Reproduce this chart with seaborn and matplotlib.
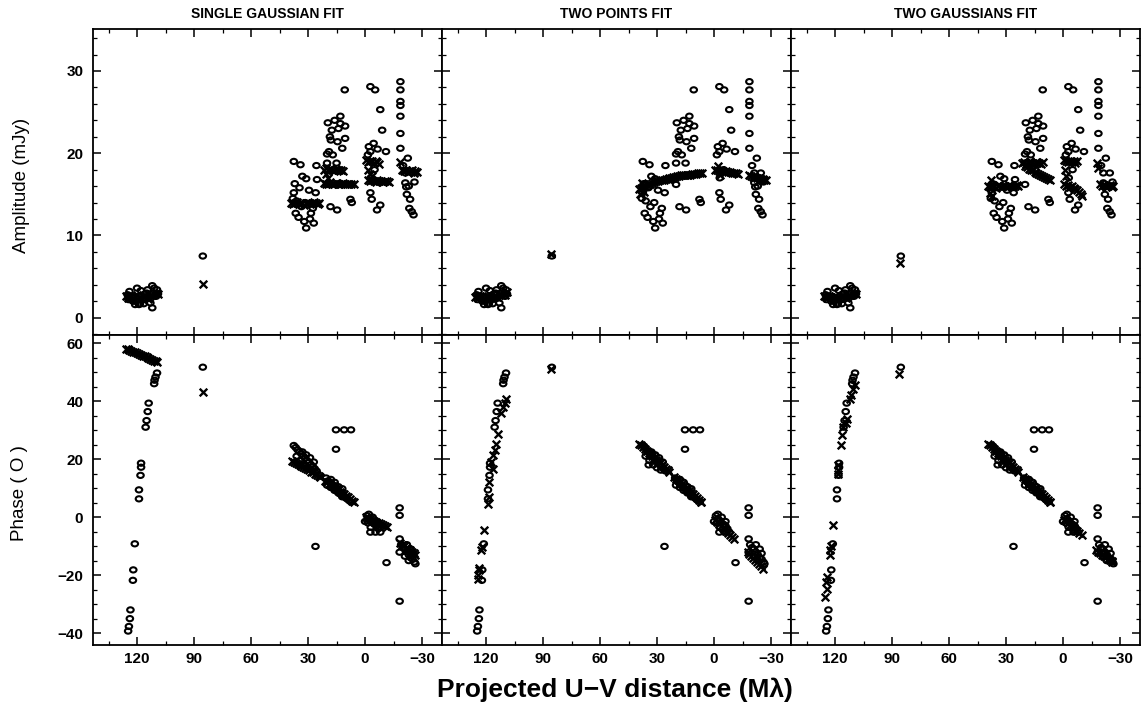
import matplotlib
matplotlib.use("Agg")
import matplotlib.pyplot as plt
import matplotlib.transforms as mtransforms
from matplotlib.path import Path
import pandas as pd
import seaborn as sns
from matplotlib.ticker import MultipleLocator

# ---------------- DATA ----------------
fit_titles = ["SINGLE GAUSSIAN FIT", "TWO POINTS FIT", "TWO GAUSSIANS FIT"]
x_ticks = [120, 90, 60, 30, 0, -30]
amp_ticks = [0, 10, 20, 30]
phase_ticks = [-40, -20, 0, 20, 40, 60]

# observed amplitudes (circles), identical in the three panels
amp_obs_uv = [
    125, 124, 123, 122, 121, 120, 119, 118.5, 118, 117, 116, 115, 114, 113, 112, 112, 111, 110, 109.5, 109,
    124.5, 120.5, 116.5, 114.5,
    85.4,
    37.5, 34, 37, 33, 31, 25.6, 25.3, 37.5, 34.5, 36.5, 32, 31, 29, 27, 28.5, 27.5, 33.5, 36, 31.5, 29.5, 26, 38, 35,
    19.6, 17.5, 13, 13, 10.5, 10.5, 14.5, 18, 19, 20, 17, 12, 20, 15, 20, 18.2, 14.7, 10.7, 7.7, 7, 16, 18.5, 14,
    -2.8, -5.3, -8, -9, -4.5, -2, -2.8, -6.6, -11, -2.8, -3.5, -6.3, -8, -3, -5, -1.5,
    -18.6, -18.6, -18.6, -18.6, -18.6, -18.6, -18.6, -22.5, -21.2, -21.7, -22, -23.7, -23.3, -24.6, -25.5,
    -21.2, -24.6, -20, -26, -23]
amp_obs = [
    2.8, 3.2, 2.6, 2.0, 1.6, 3.6, 1.6, 1.7, 3.3, 2.2, 2.9, 3.0, 2.4, 1.8, 3.9, 1.2, 3.6, 2.6, 3.4, 2.9,
    2.2, 2.0, 1.7, 3.4,
    7.5,
    19.0, 18.6, 16.3, 17.2, 16.9, 18.5, 16.8, 15.2, 15.8, 12.7, 11.7, 10.9, 12.0, 11.5, 12.7, 13.3, 13.5, 14.2, 14.0, 15.5, 15.2, 14.5, 12.2,
    23.7, 22.8, 24.5, 23.6, 23.3, 21.8, 21.4, 21.6, 20.2, 19.9, 19.8, 20.6, 18.8, 18.8, 16.2, 13.5, 13.1, 27.7, 14.4, 14.0, 24.0, 22.0, 23.0,
    28.1, 27.7, 25.3, 22.8, 21.2, 20.8, 20.2, 20.5, 20.2, 15.2, 14.4, 13.1, 13.7, 17.0, 18.0, 19.8,
    28.7, 27.7, 26.3, 25.8, 24.5, 22.4, 20.6, 19.4, 16.4, 15.9, 15.0, 14.4, 13.3, 12.9, 12.5,
    17.6, 17.6, 18.5, 16.5, 16.0]

# model amplitudes (crosses)
amp_fit_uv_single = [
    126, 125, 124, 123, 122, 121, 120, 119, 118, 117, 116, 115, 114, 113, 112, 111, 110, 109,
    85.4,
    39, 38, 37, 36, 35, 34, 33, 32, 31, 30, 29, 28, 27, 26, 25, 24,
    21.5, 20.5, 19.5, 18.5, 17.5, 16.5, 15.5, 14.5, 13.5, 12.5, 11.5,
    20.5, 19.5,
    21.5, 20.5, 19.5, 18.5, 17.5, 16.5, 15.5, 14.5, 13.5, 12.5, 11.5, 10.5, 9.5, 8.5, 7.5, 6,
    -0.5, -1.5, -2.5, -3.5, -4.5, -5.5, -6.5, -7.5,
    -1.5, -2.5, -3.5,
    -1.5, -2.5, -3.5, -4.5, -5.5, -6.5, -7.5, -8.5, -9.5, -10.5, -11.5, -12.5,
    -18.6, -19.5, -20.5, -21.5, -22.5, -23.5, -24.5, -25.5, -26.5, -27.5]
amp_fit_single = [
    2.6, 2.4, 2.7, 2.5, 2.3, 2.6, 2.8, 2.5, 2.4, 2.6, 2.7, 2.5, 2.3, 2.6, 2.8, 2.9, 3.0, 2.9,
    4.1,
    14.0, 13.8, 13.9, 14.1, 13.8, 13.9, 14.0, 13.7, 13.9, 14.0, 13.8, 13.9, 14.1, 13.9, 13.8, 13.9,
    18.0, 18.2, 17.9, 18.1, 18.0, 17.8, 18.1, 18.0, 17.9, 18.0, 17.8,
    17.5, 17.0,
    16.4, 16.2, 16.3, 16.5, 16.3, 16.2, 16.4, 16.3, 16.3, 16.2, 16.4, 16.3, 16.3, 16.2, 16.3, 16.3,
    19.2, 18.9, 19.1, 19.0, 18.8, 19.0, 18.9, 18.7,
    18.0, 17.5, 17.2,
    16.7, 16.6, 16.8, 16.6, 16.5, 16.7, 16.6, 16.6, 16.5, 16.6, 16.6, 16.5,
    18.9, 18.0, 17.8, 17.9, 17.7, 17.8, 17.9, 17.6, 17.8, 17.7]

amp_fit_uv_points = [
    126, 125, 124, 123, 122, 121, 120, 119, 118, 117, 116, 115, 114, 113, 112, 111, 110, 109,
    85.6,
    39.5, 38.5, 37.5, 36.5, 35.5, 34.5, 33.5, 32.5, 31.5, 30.5, 29.5, 28.5, 27.5, 26.5, 25.5, 24.5, 23.5,
    22.5, 21.5, 20.5, 19.5, 18.5, 17.5, 16.5, 15.5, 14.5, 13.5, 12.5, 11.5, 10.5, 9.5, 8.5, 7.5, 6.5,
    39, 38, 37,
    -0.5, -1.5, -2.5, -3.5, -4.5, -5.5, -6.5, -7.5, -8.5, -9.5, -10.5, -11.5, -12.5,
    -2, -3,
    -18.5, -19.5, -20.5, -21.5, -22.5, -23.5, -24.5, -25.5, -26.5, -27.5]
amp_fit_points = [
    2.5, 2.6, 2.4, 2.6, 2.5, 2.3, 2.7, 2.6, 2.5, 2.4, 2.7, 2.6, 2.5, 2.8, 2.9, 3.0, 2.8, 3.1,
    7.8,
    15.6, 15.8, 15.9, 16.0, 16.1, 16.2, 16.3, 16.4, 16.5, 16.6, 16.6, 16.7, 16.8, 16.8, 16.9, 16.9, 17.0,
    17.0, 17.1, 17.1, 17.2, 17.2, 17.3, 17.3, 17.3, 17.4, 17.4, 17.4, 17.5, 17.5, 17.5, 17.6, 17.6, 17.6,
    15.0, 16.4, 15.3,
    18.0, 17.9, 17.8, 17.9, 17.8, 17.7, 17.8, 17.7, 17.7, 17.6, 17.6, 17.6, 17.5,
    18.5, 17.3,
    17.3, 17.2, 17.1, 17.1, 17.0, 17.0, 16.9, 16.9, 16.8, 16.8]

amp_fit_uv_gauss2 = [
    126, 125, 124, 123, 122, 121, 120, 119, 118, 117, 116, 115, 114, 113, 112, 111, 110, 109,
    85.6,
    39.5, 38.5, 37.5, 36.5, 35.5, 34.5, 33.5, 32.5, 31.5, 30.5, 29.5, 28.5, 27.5, 26.5, 25.5, 24.5, 23.5,
    38.5, 38, 37.5,
    21.5, 20.5, 19.5, 18.5, 17.5, 16.5, 15.5, 14.5, 13.5, 12.5, 11.5, 10.5,
    20, 19, 18, 17, 16, 15, 14, 13, 12, 11, 10, 9, 8, 7,
    -0.5, -1.5, -2.5, -3.5, -4.5, -5.5, -6.5, -7.5,
    -0.5, -1.5, -2.5, -3.5, -4.5, -5.5, -6.5, -7.5, -8.5, -9.5, -10,
    -1, -1.5,
    -18, -18.5, -19.5, -20.5, -21.5, -22.5, -23.5, -24.5, -25.5, -26.5]
amp_fit_gauss2 = [
    2.6, 2.5, 2.4, 2.6, 2.5, 2.4, 2.7, 2.5, 2.4, 2.6, 2.6, 2.5, 2.4, 2.7, 2.8, 2.9, 3.0, 2.9,
    6.6,
    16.0, 15.9, 16.1, 16.0, 15.8, 16.0, 16.1, 15.9, 16.0, 16.0, 15.9, 16.1, 16.0, 15.9, 16.0, 16.1, 16.0,
    15.2, 16.8, 14.8,
    18.8, 18.9, 18.7, 18.8, 19.0, 18.8, 18.7, 18.9, 18.8, 18.8, 18.7, 18.9,
    18.4, 18.3, 18.1, 18.0, 17.9, 17.7, 17.6, 17.5, 17.3, 17.2, 17.1, 17.0, 16.9, 16.8,
    19.2, 19.0, 18.9, 19.1, 18.9, 19.0, 18.8, 19.0,
    16.2, 16.0, 16.1, 15.9, 16.0, 15.8, 15.7, 15.5, 15.3, 15.0, 14.8,
    18.0, 17.2,
    18.8, 18.2, 16.2, 16.0, 16.1, 15.9, 16.0, 16.1, 15.9, 16.0]

# observed phases (circles), identical in the three panels
phase_obs_uv = [
    109.5, 110.3, 110.8, 111, 113.9, 114.4, 115, 115.5, 117.9, 117.9, 118.2, 119, 119, 121.2, 122, 122.2,
    123.5, 123.8, 124.3, 124.7,
    85.4,
    37.5, 36.5, 35.5, 34.5, 33.5, 32.5, 31.5, 30.5, 29.5, 28.5, 27.5, 26.5, 25.5, 36, 34, 32, 30, 28, 33, 31, 29, 27, 34.4,
    20.5, 19.5, 18.5, 17.5, 16.5, 15.5, 14.5, 13.5, 12.5, 11.5, 10.5, 9.5, 8.5, 7.5, 20, 18, 16, 14, 12, 18, 16, 14, 12,
    15.3, 11, 7.4, 15.3, 26.1,
    -1, -2, -3, -4, -5, -6, -2, -1.5, -3, -2.8, -5.5, -8, -4, -6, -11.3, 0, -7,
    -18.2, -18.2, -18.2, -18.2, -18.2, -19, -20, -21, -22, -23, -24, -25, -26, -26.5, -22, -24, -25, -21, -23]
phase_obs = [
    49.7, 48.3, 47.2, 46.0, 39.3, 36.4, 33.3, 31.0, 18.6, 17.2, 14.4, 9.4, 6.3, -9.2, -18.2, -21.8,
    -32.0, -35.0, -37.7, -39.3,
    51.7,
    24.7, 24.0, 23.2, 22.6, 21.8, 21.0, 20.3, 19.5, 18.9, 18.1, 17.4, 16.7, 15.9, 21.0, 19.5, 18.0, 17.0, 16.2, 22.5, 21.5, 20.5, 19.0, 18.0,
    13.5, 12.5, 12.0, 11.3, 10.6, 10.0, 9.4, 8.7, 8.2, 7.5, 7.0, 6.3, 5.8, 5.3, 11.0, 10.2, 9.2, 8.3, 7.0, 13.0, 12.0, 10.5, 9.8,
    30.1, 30.1, 30.1, 23.4, -10.1,
    0.5, -0.5, -1.2, -2.0, -2.5, -3.0, 1.0, -2.0, -3.5, -5.2, -5.2, -5.2, 0.0, -1.5, -15.7, -1.5, -4.0,
    3.2, 0.6, -7.5, -12.1, -29.0, -9.5, -10.5, -11.0, -12.0, -13.0, -14.0, -14.5, -15.5, -16.1, -9.5, -11.0, -12.5, -13.5, -15.0]

# model phases (crosses)
phase_fit_uv_single = [
    126, 125, 124, 123, 122, 121, 120, 119, 118, 117, 116, 115, 114, 113, 112, 111, 110, 109.5,
    85.4,
    38.5, 37.5, 36.5, 35.5, 34.5, 33.5, 32.5, 31.5, 30.5, 29.5, 28.5, 27.5, 26.5, 25.5, 24.5, 23.5,
    21, 20, 19, 18, 17, 16, 15, 14, 13, 12, 11, 10, 9, 8, 7, 6,
    -0.5, -1.5, -2.5, -3.5, -4.5, -5.5, -6.5, -7.5, -8.5, -9.5, -10.5, -11.6,
    -18.5, -19.5, -20.5, -21.5, -22.5, -23.5, -24.5, -25.5, -26.5]
phase_fit_single = [
    58.0, 57.8, 57.5, 57.3, 57.0, 56.8, 56.5, 56.3, 56.0, 55.7, 55.5, 55.2, 55.0, 54.6, 54.3, 54.0, 53.7, 53.4,
    43.1,
    19.5, 19.1, 18.8, 18.4, 18.0, 17.6, 17.3, 16.9, 16.5, 16.1, 15.7, 15.4, 15.0, 14.6, 14.2, 13.8,
    12.5, 12.0, 11.5, 11.1, 10.6, 10.1, 9.7, 9.2, 8.7, 8.3, 7.8, 7.3, 6.8, 6.2, 5.7, 5.2,
    0.0, -0.3, -0.6, -1.0, -1.3, -1.6, -1.9, -2.2, -2.5, -2.8, -3.1, -3.4,
    -9.0, -9.5, -10.0, -10.5, -11.0, -11.5, -12.0, -12.5, -13.0]

phase_fit_uv_points = [
    124.4, 124.0, 123.8, 123.6, 122.8, 122, 121.2, 119.1, 118.7, 118.2, 117.5, 116.5, 116.2, 115.5, 114.7,
    113.9, 112, 111.3, 110.2, 109.5,
    85.8,
    39.5, 38.5, 37.5, 36.5, 35.5, 34.5, 33.5, 32.5, 31.5, 30.5, 29.5, 28.5, 27.5, 26.5, 25.5, 24.5, 23.5,
    21, 20, 19, 18, 17, 16, 15, 14, 13, 12, 11, 10, 9, 8, 7, 6.8,
    -0.5, -1.5, -2.5, -3.5, -4.5, -5.5, -6.5, -7.5, -8.5, -9.5, -10.7,
    -17.7, -18.5, -19.5, -20.5, -21.5, -22.5, -23.5, -24.5, -25.6]
phase_fit_points = [
    -21.3, -20.0, -17.5, -18.4, -11.5, -10.3, -4.6, 4.6, 6.9, 12.1, 18.9, 16.7, 21.3, 23.0, 25.3,
    28.7, 35.9, 37.9, 39.2, 40.8,
    51.1,
    25.3, 24.7, 24.1, 23.5, 22.9, 22.2, 21.6, 21.0, 20.4, 19.8, 19.2, 18.5, 17.9, 17.3, 16.7, 16.1, 15.5,
    13.9, 13.3, 12.7, 12.1, 11.5, 10.9, 10.2, 9.6, 9.0, 8.4, 7.8, 7.2, 6.6, 5.9, 5.3, 5.2,
    -1.0, -1.6, -2.3, -2.9, -3.6, -4.2, -4.9, -5.5, -6.2, -6.8, -7.5,
    -12.1, -12.7, -13.4, -14.1, -14.8, -15.5, -16.2, -16.9, -17.8]

phase_fit_uv_gauss2 = [
    125.3, 124.8, 124.5, 124, 122.6, 122.5, 122.2, 121.2, 118.6, 118.5, 118.4, 117, 116.5, 115.8, 114.5,
    113.9, 112, 111.5, 110.4, 109.6,
    86.1,
    39.5, 38.5, 37.5, 36.5, 35.5, 34.5, 33.5, 32.5, 31.5, 30.5, 29.5, 28.5, 27.5, 26.5, 25.5, 24.5, 23.5,
    21, 20, 19, 18, 17, 16, 15, 14, 13, 12, 11, 10, 9, 8, 7, 6.8,
    -0.5, -1.5, -2.5, -3.5, -4.5, -5.5, -6.5, -7.5, -8.5, -9.8,
    -17.5, -18.5, -19.5, -20.5, -21.5, -22.5, -23.5, -24.5, -25.5, -26]
phase_fit_gauss2 = [
    -27.6, -22.5, -24.7, -20.7, -11.5, -13.0, -9.8, -2.6, 14.9, 16.2, 17.8, 25.0, 28.2, 31.0, 32.5,
    33.9, 40.8, 42.0, 44.3, 45.4,
    49.4,
    25.3, 24.7, 24.1, 23.5, 22.9, 22.2, 21.6, 21.0, 20.4, 19.8, 19.2, 18.5, 17.9, 17.3, 16.7, 16.1, 15.5,
    13.9, 13.3, 12.7, 12.1, 11.5, 10.9, 10.2, 9.6, 9.0, 8.4, 7.8, 7.2, 6.6, 5.9, 5.3, 5.2,
    -1.0, -1.5, -2.1, -2.6, -3.2, -3.7, -4.3, -4.8, -5.4, -6.0,
    -11.5, -12.0, -12.5, -13.0, -13.4, -13.9, -14.3, -14.8, -15.2, -15.5]

# ---------------- PLOT ----------------
sns.set_theme(style="ticks", rc={
    "axes.edgecolor": "black", "xtick.color": "black", "ytick.color": "black",
    "text.color": "black", "axes.labelcolor": "black", "axes.linewidth": 1.2,
})
plt.rcParams['font.family'] = ['Liberation Sans', 'DejaVu Sans']

amp_obs_df = pd.DataFrame({"uv": amp_obs_uv, "val": amp_obs})
phase_obs_df = pd.DataFrame({"uv": phase_obs_uv, "val": phase_obs})
amp_fit_dfs = [pd.DataFrame({"uv": u, "val": v}) for u, v in
               [(amp_fit_uv_single, amp_fit_single), (amp_fit_uv_points, amp_fit_points),
                (amp_fit_uv_gauss2, amp_fit_gauss2)]]
phase_fit_dfs = [pd.DataFrame({"uv": u, "val": v}) for u, v in
                 [(phase_fit_uv_single, phase_fit_single), (phase_fit_uv_points, phase_fit_points),
                  (phase_fit_uv_gauss2, phase_fit_gauss2)]]

# slightly flattened open circle, as in the scanned original
ellipse_marker = Path.unit_circle().transformed(mtransforms.Affine2D().scale(1.0, 0.8))

FW, FH = 1143, 718
fig = plt.figure(figsize=(FW / 100, FH / 100), dpi=100)
lefts = [93, 442, 791]
PW = 349


def draw(ax, obs, fit):
    sns.scatterplot(data=obs, x="uv", y="val", ax=ax, marker=ellipse_marker, s=22,
                    edgecolor="black", linewidth=1.5, legend=False)
    ax.collections[-1].set_facecolor("none")
    sns.scatterplot(data=fit, x="uv", y="val", ax=ax, marker="x", s=30,
                    color="black", linewidth=1.7, legend=False)
    ax.set_xlabel("")
    ax.set_ylabel("")
    ax.set_xlim(143.2, -40.5)
    ax.xaxis.set_major_locator(MultipleLocator(30))
    ax.xaxis.set_minor_locator(MultipleLocator(15))
    ax.tick_params(which="both", direction="in", top=True, right=True, labelsize=11)
    ax.tick_params(which="major", length=6, width=1.1)
    ax.tick_params(which="minor", length=3, width=0.9)
    for s in ax.spines.values():
        s.set_linewidth(1.3)


for i, title in enumerate(fit_titles):
    axA = fig.add_axes([lefts[i] / FW, 1 - 335 / FH, PW / FW, 306 / FH])
    axP = fig.add_axes([lefts[i] / FW, 1 - 645 / FH, PW / FW, 310 / FH])
    draw(axA, amp_obs_df, amp_fit_dfs[i])
    draw(axP, phase_obs_df, phase_fit_dfs[i])
    axA.set_ylim(-2.1, 35.1)
    axA.set_yticks(amp_ticks)
    axA.yaxis.set_minor_locator(MultipleLocator(2))
    axP.set_ylim(-44.1, 62.8)
    axP.set_yticks(phase_ticks)
    axP.yaxis.set_minor_locator(MultipleLocator(5))
    axA.set_xticks(x_ticks)
    axP.set_xticks(x_ticks)
    axA.tick_params(labelbottom=False)
    axP.tick_params(axis="x", pad=5)
    for ax in (axA, axP):
        ax.tick_params(axis="y", pad=7)
        if i > 0:
            ax.tick_params(labelleft=False)
        for lbl in ax.get_xticklabels() + ax.get_yticklabels():
            lbl.set_fontweight("bold")
    fig.text((lefts[i] + PW / 2) / FW, 1 - 14 / FH, title, ha="center", va="center",
             fontsize=10, fontweight="bold")

fig.text(22 / FW, 1 - 185 / FH, "Amplitude (mJy)", rotation=90, ha="center", va="center", fontsize=13.5)
fig.text(20 / FW, 1 - 493 / FH, "Phase ( O )", rotation=90, ha="center", va="center", fontsize=13.5)
fig.text(615 / FW, 1 - 690 / FH, "Projected U\u2212V distance (M\u03bb)", ha="center", va="center",
         fontsize=19, fontweight="bold")

fig.savefig("out.png", dpi=100)
